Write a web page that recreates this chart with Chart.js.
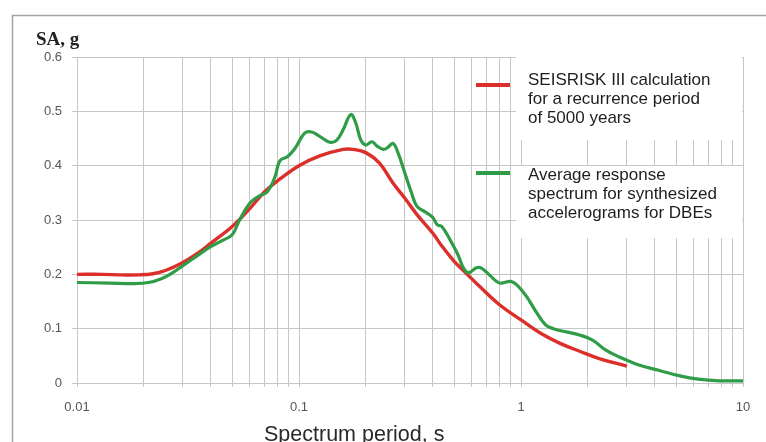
<!DOCTYPE html>
<html>
<head>
<meta charset="utf-8">
<title>Response spectra</title>
<script src="https://cdn.jsdelivr.net/npm/chart.js@4.4.1/dist/chart.umd.min.js"></script>
<style>
  html, body { margin: 0; padding: 0; background: #fff; }
  #wrap { width: 766px; height: 442px; position: relative; }
</style>
</head>
<body>
<div id="wrap"><canvas id="spectrumChart"></canvas></div>
<script>
// SEISRISK III spectrum (5000-year recurrence)
const seisriskPeriods = [0.01, 0.013, 0.016, 0.019, 0.022, 0.025, 0.03, 0.035, 0.04, 0.05, 0.06, 0.07, 0.08, 0.1, 0.124, 0.158, 0.175, 0.2, 0.23, 0.265, 0.3, 0.34, 0.4, 0.44, 0.5, 0.55, 0.65, 0.8, 1, 1.22, 1.5, 1.85, 2.25, 3];
const seisriskSA = [0.200, 0.200, 0.199, 0.199, 0.201, 0.207, 0.222, 0.239, 0.257, 0.288, 0.321, 0.352, 0.372, 0.400, 0.418, 0.430, 0.430, 0.424, 0.405, 0.368, 0.340, 0.310, 0.276, 0.252, 0.224, 0.207, 0.178, 0.144, 0.116, 0.092, 0.073, 0.058, 0.045, 0.031];

// average of the synthesized accelerograms
const averagePeriods = [0.01, 0.014, 0.018, 0.021, 0.024, 0.027, 0.03, 0.035, 0.04, 0.045, 0.05, 0.054, 0.06, 0.066, 0.072, 0.078, 0.082, 0.089, 0.096, 0.106, 0.114, 0.124, 0.138, 0.148, 0.158, 0.171, 0.18, 0.19, 0.2, 0.213, 0.225, 0.24, 0.25, 0.265, 0.278, 0.3, 0.32, 0.34, 0.37, 0.4, 0.42, 0.44, 0.48, 0.52, 0.55, 0.58, 0.63, 0.66, 0.72, 0.8, 0.9, 0.96, 1.06, 1.17, 1.29, 1.4, 1.6, 1.85, 2.1, 2.4, 2.77, 3.4, 4.2, 5.2, 6.3, 7.8, 10];
const averageSA = [0.185, 0.184, 0.183, 0.185, 0.192, 0.203, 0.216, 0.235, 0.251, 0.262, 0.273, 0.300, 0.331, 0.344, 0.352, 0.380, 0.409, 0.417, 0.432, 0.460, 0.462, 0.454, 0.443, 0.447, 0.466, 0.494, 0.479, 0.447, 0.438, 0.444, 0.436, 0.430, 0.433, 0.441, 0.426, 0.386, 0.352, 0.325, 0.315, 0.305, 0.291, 0.288, 0.263, 0.236, 0.212, 0.203, 0.212, 0.212, 0.199, 0.184, 0.187, 0.180, 0.159, 0.131, 0.107, 0.100, 0.094, 0.088, 0.079, 0.061, 0.048, 0.033, 0.023, 0.013, 0.007, 0.004, 0.004];

const periodDecades = [0.01, 0.1, 1, 10];
const decadeLabels = ['0.01', '0.1', '1', '10'];
const saTickLabels = ['0', '0.1', '0.2', '0.3', '0.4', '0.5', '0.6'];

const seriesLines = [
  ['SEISRISK III calculation', 'for a recurrence period', 'of 5000 years'],
  ['Average response', 'spectrum for synthesized', 'accelerograms for DBEs']
];
const seriesColors = ['#dc2f2a', '#2f9d47'];
const yTitle = 'SA, g';
const xTitle = 'Spectrum period, s';

const GRID = '#c6c6c6';

// 1..9 gridlines inside every decade
const periodGrid = [];
periodDecades.forEach((d, i) => {
  if (i === periodDecades.length - 1) { periodGrid.push(d); return; }
  for (let m = 1; m <= 9; m++) periodGrid.push(+(d * m).toPrecision(3));
});

const toPoints = (xs, ys) => xs.map((x, i) => ({ x, y: ys[i] }));

// frame, axis titles and the legend panel on the right
const decorations = {
  id: 'decorations',
  beforeDraw(chart) {
    const ctx = chart.ctx;
    ctx.save();
    ctx.fillStyle = '#fff';
    ctx.fillRect(0, 0, chart.width, chart.height);
    ctx.strokeStyle = '#a3a3a3';
    ctx.lineWidth = 1.5;
    ctx.strokeRect(12.5, 15.5, chart.width + 20, chart.height + 20);
    ctx.restore();
  },
  afterDraw(chart) {
    const ctx = chart.ctx;
    ctx.save();

    ctx.fillStyle = '#222';
    ctx.font = 'bold 19px "Liberation Serif", "Times New Roman", serif';
    ctx.textBaseline = 'alphabetic';
    ctx.textAlign = 'left';
    ctx.fillText(yTitle, 36, 45);

    ctx.font = '21.5px "Liberation Sans", Arial, sans-serif';
    ctx.fillStyle = '#2a2a2a';
    ctx.fillText(xTitle, 264, 441);

    // legend
    ctx.fillStyle = '#fff';
    ctx.fillRect(516, 49, 226, 91);
    ctx.fillRect(516, 166, 226, 72);

    const rows = [{ line: 85, text: 80 }, { line: 173, text: 175 }];
    ctx.font = '17px "Liberation Sans", Arial, sans-serif';
    ctx.textBaseline = 'middle';
    chart.data.datasets.forEach((ds, i) => {
      ctx.strokeStyle = ds.borderColor;
      ctx.lineWidth = 4;
      ctx.beginPath();
      ctx.moveTo(476, rows[i].line);
      ctx.lineTo(510, rows[i].line);
      ctx.stroke();
      ctx.fillStyle = '#1e1e1e';
      seriesLines[i].forEach((t, k) => ctx.fillText(t, 528, rows[i].text + k * 19.2));
    });
    ctx.restore();
  }
};

new Chart(document.getElementById('spectrumChart'), {
  type: 'line',
  data: {
    datasets: [
      {
        label: seriesLines[0].join(' '),
        data: toPoints(seisriskPeriods, seisriskSA),
        borderColor: seriesColors[0],
        borderWidth: 3.4,
        pointRadius: 0,
        tension: 0.4,
        fill: false,
        order: 1
      },
      {
        label: seriesLines[1].join(' '),
        data: toPoints(averagePeriods, averageSA),
        borderColor: seriesColors[1],
        borderWidth: 3.2,
        pointRadius: 0,
        tension: 0.4,
        fill: false,
        order: 0
      }
    ]
  },
  options: {
    responsive: true,
    maintainAspectRatio: false,
    animation: false,
    devicePixelRatio: 1,
    layout: { padding: { left: 0, right: 23, top: 57, bottom: 0 } },
    plugins: {
      legend: { display: false },
      tooltip: { enabled: false }
    },
    scales: {
      x: {
        type: 'logarithmic',
        min: 0.01,
        max: 10,
        afterBuildTicks(scale) {
          scale.ticks = periodGrid.map(v => ({ value: v }));
        },
        afterFit(scale) { scale.height = 59; },
        ticks: {
          autoSkip: false,
          maxRotation: 0,
          padding: 13,
          color: '#555',
          font: { family: '"Liberation Sans", Arial, sans-serif', size: 13 },
          callback(value) {
            const i = periodDecades.findIndex(d => Math.abs(d - value) < d * 1e-6);
            return i >= 0 ? decadeLabels[i] : '';
          }
        },
        grid: { color: GRID, lineWidth: 1, tickLength: 4, tickColor: GRID },
        border: { color: GRID }
      },
      y: {
        min: 0,
        max: 0.6,
        afterFit(scale) { scale.width = 77; },
        ticks: {
          stepSize: 0.1,
          padding: 10,
          color: '#555',
          font: { family: '"Liberation Sans", Arial, sans-serif', size: 13 },
          callback(value) {
            return saTickLabels[Math.round(value * 10)];
          }
        },
        grid: { color: GRID, lineWidth: 1, tickLength: 5, tickColor: GRID },
        border: { color: GRID }
      }
    }
  },
  plugins: [decorations]
});
</script>
</body>
</html>
